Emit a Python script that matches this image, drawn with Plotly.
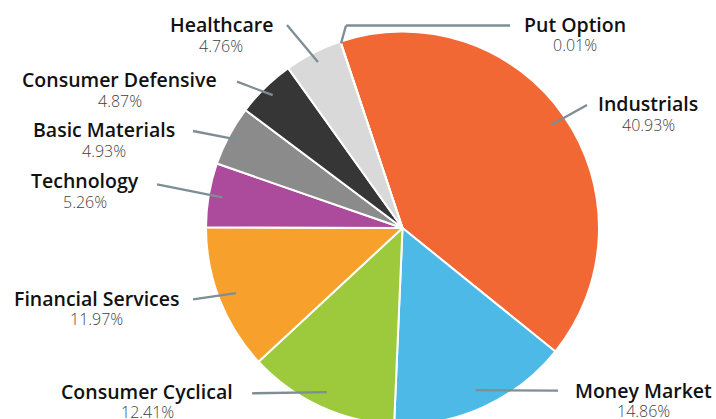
import math
import plotly.graph_objects as go

# ---- data ----
sectors = ["Industrials", "Money Market", "Consumer Cyclical", "Financial Services",
           "Technology", "Basic Materials", "Consumer Defensive", "Healthcare", "Put Option"]
weights = [40.93, 14.86, 12.41, 11.97, 5.26, 4.93, 4.87, 4.76, 0.01]
pct_labels = ["40.93%", "14.86%", "12.41%", "11.97%", "5.26%", "4.93%", "4.87%", "4.76%", "0.01%"]

# ---- style / layout ----
colors = ["#F26835", "#4DB9E7", "#9DC93C", "#F7A02B", "#AC4B9C",
          "#8B8B8B", "#363636", "#D9D9D9", "#6A9FCF"]
W, H = 716, 440
CX, CY, R = 402.5, 228.0, 196.5
ROTATION = -18.4

# label centres (pixels) for the name line; percent line is below
label_pos = [(648, 104), (643, 390), (147, 391), (96, 298), (85, 180.5),
             (104, 129.5), (120, 79.5), (221, 25), (575, 24.5)]
# leader-line outer ends (pixels); Put Option has an elbow
leader_end = [[(587, 105)], [(558, 390.7)], [(252, 393.3)], [(193, 299.3)], [(157, 184.3)],
              [(193, 131)], [(237, 81.7)], [(287, 25)], [(346, 25.5), (510, 25.5)]]
leader_r = [0.925, 0.905, 0.92, 0.91, 0.93, 0.96, 0.945, 0.948, 0.99]


def px(x):
    return x / W


def py(y):
    return 1 - y / H


fig = go.Figure()
fig.add_trace(go.Pie(
    labels=sectors, values=weights, sort=False, direction="clockwise",
    rotation=ROTATION, textinfo="none", hoverinfo="label+percent",
    marker=dict(colors=colors, line=dict(color="white", width=2)),
    domain=dict(x=[px(CX - R), px(CX + R)], y=[py(CY + R), py(CY - R)]),
    showlegend=False,
))

shapes = []
annotations = []
total = sum(weights)
cum = 0.0
for i, (name, v) in enumerate(zip(sectors, weights)):
    mid = ROTATION + (cum + v / 2) / total * 360.0
    cum += v
    a = math.radians(mid)
    sx = CX + leader_r[i] * R * math.sin(a)
    sy = CY - leader_r[i] * R * math.cos(a)
    pts = [(sx, sy)] + leader_end[i]
    for (x0, y0), (x1, y1) in zip(pts[:-1], pts[1:]):
        shapes.append(dict(type="line", xref="paper", yref="paper",
                           x0=px(x0), y0=py(y0), x1=px(x1), y1=py(y1),
                           line=dict(color="#7F8D95", width=2.3), layer="above"))
    lx, ly = label_pos[i]
    annotations.append(dict(x=px(lx), y=py(ly), xref="paper", yref="paper",
                            text=name, showarrow=False, xanchor="center", yanchor="middle",
                            font=dict(family="Open Sans", size=19.5, color="#111111", weight=600)))
    annotations.append(dict(x=px(lx), y=py(ly + 21), xref="paper", yref="paper",
                            text=pct_labels[i], showarrow=False, xanchor="center", yanchor="middle",
                            font=dict(family="Open Sans", size=16, color="#3F3F3F", weight=300)))

fig.update_layout(
    width=W, height=H, margin=dict(l=0, r=0, t=0, b=0),
    paper_bgcolor="white", plot_bgcolor="white",
    shapes=shapes, annotations=annotations,
)

fig.write_html("out.html", config={"displayModeBar": False},
               post_script="document.body.style.margin='0';document.body.style.overflow='hidden';"
                           "document.documentElement.style.overflow='hidden';")
